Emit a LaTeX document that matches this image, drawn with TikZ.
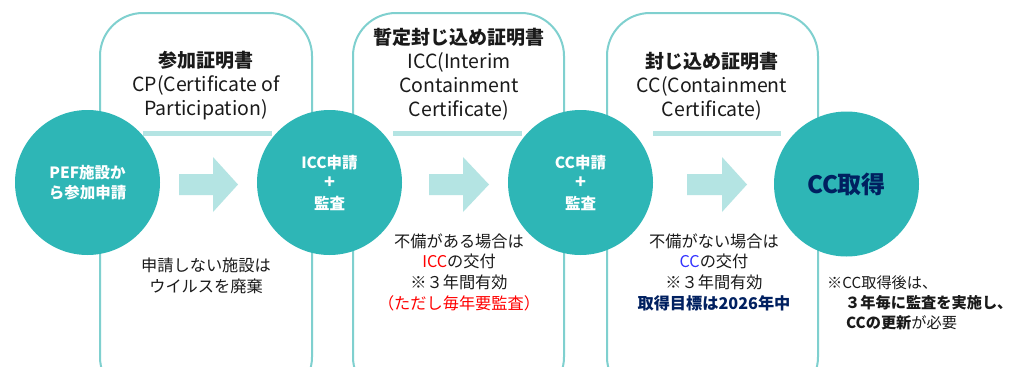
\documentclass[tikz,border=0pt]{standalone}
\usepackage{fontspec}
\setmainfont{Noto Sans CJK JP}
\definecolor{circfill}{HTML}{2EB6B6}
\definecolor{boxedge}{HTML}{7FD0CF}
\definecolor{arrowfill}{HTML}{B4E4E3}
\definecolor{navy}{HTML}{002060}
\definecolor{txt}{HTML}{1A1A1A}
\definecolor{redtxt}{HTML}{FF0000}
\definecolor{bluetxt}{HTML}{3333FF}
\tikzset{
  certbox/.style={draw=boxedge, line width=2pt, rounded corners=43pt},
  sepline/.style={draw=arrowfill, line width=5pt},
  flowarrow/.style={fill=arrowfill, draw=none},
  circ/.style={circle, fill=circfill, draw=none, minimum size=145pt, inner sep=0pt, text=white, align=center, font=\fontsize{15.5}{20.5}\selectfont\bfseries},
  title/.style={align=center, text=txt, inner sep=0pt, font=\fontsize{19.5}{24}\selectfont},
  lower/.style={align=center, text=txt, inner sep=0pt, font=\fontsize{16.2}{20.7}\selectfont},
  note/.style={anchor=west, text=txt, inner sep=0pt, font=\fontsize{15.2}{20}\selectfont}
}
\begin{document}
\begin{tikzpicture}[x=1pt,y=-1pt]
\useasboundingbox (0,0) rectangle (1018,367);
\clip (0,0) rectangle (1018,367);
\fill[white] (0,0) rectangle (1018,367);
% boxes
\draw[certbox] (100,13) rectangle (312,400);
\draw[certbox] (353,13) rectangle (564,400);
\draw[certbox] (607,13) rectangle (818,400);
% separator lines
\coordinate (s1a) at (143,133); \coordinate (s1b) at (272,133);
\coordinate (s2a) at (393,133); \coordinate (s2b) at (522,133);
\coordinate (s3a) at (653,133); \coordinate (s3b) at (781,133);
\draw[sepline] (s1a) -- (s1b);
\draw[sepline] (s2a) -- (s2b);
\draw[sepline] (s3a) -- (s3b);
% arrows
\fill[flowarrow] (179,174) -- (213,174) -- (213,157) -- (238,184.5) -- (213,212) -- (213,195) -- (179,195) -- cycle;
\fill[flowarrow] (429,174) -- (463,174) -- (463,157) -- (489,184.5) -- (463,212) -- (463,195) -- (429,195) -- cycle;
\fill[flowarrow] (687,174) -- (722,174) -- (722,157) -- (747,184.5) -- (722,212) -- (722,195) -- (687,195) -- cycle;
% circles
\node[circ] (c1) at (87.5,182.5) {PEF施設か\\ら参加申請};
\node[circ] (c2) at (329.5,182.5) {ICC申請\\{\fontsize{18}{20.5}\selectfont +}\\監査};
\node[circ] (c3) at (580.5,182.5) {CC申請\\{\fontsize{18}{20.5}\selectfont +}\\監査};
\node[circ, text=navy, font=\fontsize{24}{28}\selectfont\bfseries] (c4) at (846.5,184) {CC取得};
% titles
\node[title] (t1) at (206,86) {{\fontsize{19}{24}\selectfont\bfseries 参加証明書}\\CP(Certificate of\\Participation)};
\node[title] (t2) at (459,74) {{\fontsize{19}{24}\selectfont\bfseries 暫定封じ込め証明書}\\ICC(Interim\\Containment\\Certificate)};
\node[title] (t3) at (712,86) {{\fontsize{19}{24}\selectfont\bfseries 封じ込め証明書}\\CC(Containment\\Certificate)};
% lower texts
\node[lower] (l1) at (206,276) {申請しない施設は\\ウイルスを廃棄};
\node[lower] (l2) at (459,272) {不備がある場合は\\\textcolor{redtxt}{ICC}の交付\\※３年間有効\\\textcolor{redtxt}{（ただし毎年要監査）}};
\node[lower] (l3) at (714,272) {不備がない場合は\\\textcolor{bluetxt}{CC}の交付\\※３年間有効\\\textcolor{navy}{\bfseries 取得目標は2026年中}};
% right note
\node[note] (n1) at (827,283) {※CC取得後は、};
\node[note] (n2) at (845,303) {\bfseries ３年毎に監査を実施し、};
\node[note] (n3) at (846,323) {{\bfseries CCの更新}が必要};
\end{tikzpicture}
\end{document}
